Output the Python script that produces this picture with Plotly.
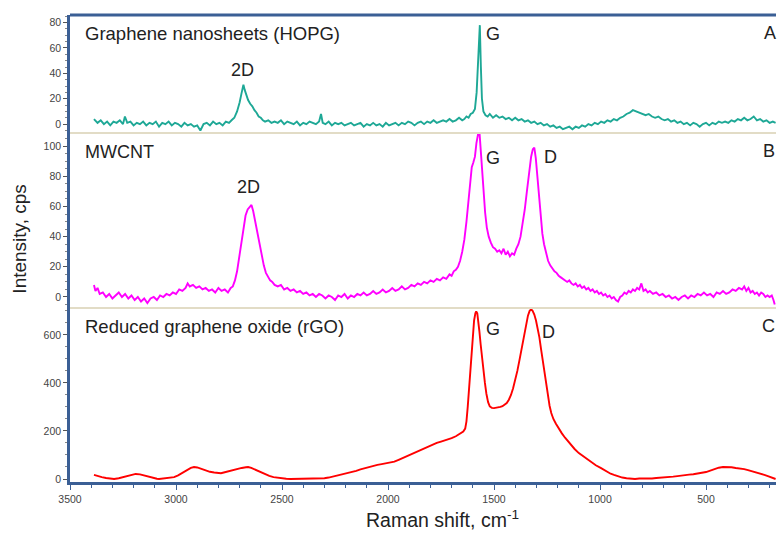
import plotly.graph_objects as go
from plotly.subplots import make_subplots

# ---------------- data ----------------
hopg_shift = [3387, 3370, 3355, 3340, 3325, 3310, 3295, 3280, 3265, 3250, 3241, 3230, 3215, 3200, 3185, 3170,
              3155, 3140, 3125, 3110, 3095, 3080, 3065, 3050, 3035, 3020, 3005, 2990, 2975, 2960, 2945, 2930,
              2915, 2900, 2885, 2870, 2855, 2840, 2825, 2810, 2795, 2780, 2765, 2750, 2738, 2725, 2712, 2700,
              2690, 2682, 2676, 2668, 2660, 2650, 2640, 2630, 2620, 2610, 2600, 2590, 2580, 2565, 2550, 2535,
              2520, 2505, 2490, 2475, 2460, 2445, 2430, 2415, 2400, 2385, 2370, 2355, 2340, 2325, 2316, 2308,
              2295, 2280, 2265, 2250, 2235, 2220, 2205, 2190, 2175, 2160, 2145, 2130, 2115, 2100, 2085, 2070,
              2055, 2040, 2025, 2010, 1995, 1980, 1965, 1950, 1935, 1920, 1905, 1890, 1875, 1860, 1845, 1830,
              1815, 1800, 1785, 1770, 1755, 1740, 1725, 1710, 1695, 1680, 1665, 1650, 1640, 1630, 1620, 1610,
              1600, 1590, 1582, 1577, 1572, 1567, 1562, 1557, 1550, 1540, 1530, 1520, 1505, 1490, 1475, 1460,
              1445, 1430, 1415, 1400, 1385, 1370, 1355, 1340, 1325, 1310, 1295, 1280, 1265, 1250, 1235, 1220,
              1205, 1190, 1175, 1160, 1145, 1130, 1115, 1100, 1085, 1070, 1055, 1040, 1025, 1010, 995, 980,
              965, 950, 935, 920, 905, 890, 875, 860, 845, 830, 815, 800, 785, 770, 755, 740,
              725, 710, 695, 680, 665, 650, 635, 620, 605, 590, 575, 560, 545, 530, 515, 500,
              485, 470, 455, 440, 425, 410, 395, 380, 365, 350, 335, 320, 305, 290, 275, 260,
              245, 230, 215, 200, 185, 172]
hopg_int = [4, 1, 3, 0, 2, -1, 2, 1, 3, 0, 6, 1, 2, -1, 1, 0,
            2, -1, 1, 0, 2, -2, 1, 0, 2, -1, 1, 0, -2, 1, -1, 0,
            -2, -1, -5, 0, 1, -1, 2, 0, 1, -1, 2, 1, 3, 5, 10, 17,
            25, 31, 27, 22, 19, 16, 14, 11, 9, 6, 5, 3, 2, 3, 1, 2,
            1, 3, 0, 2, 1, 0, 2, -1, 1, 0, 2, 1, 0, 2, 8, 1,
            0, 2, -1, 1, 0, 1, -1, 0, 1, -1, 0, 1, -2, 0, -1, 1,
            -1, 0, -2, 1, -1, 0, 1, -1, 1, 0, 2, 1, -1, 1, 2, 0,
            2, 1, 3, 1, 2, 3, 2, 4, 2, 3, 5, 3, 4, 6, 5, 8,
            9, 12, 25, 45, 70, 78, 45, 20, 10, 7, 6, 8, 5, 7, 5, 6,
            4, 5, 3, 5, 3, 4, 2, 3, 1, 2, 0, 1, -1, 0, -2, -1,
            -3, -2, -4, -3, -2, -4, -2, -3, -1, -2, 0, -1, 1, 0, 2, 1,
            3, 2, 4, 3, 5, 6, 8, 9, 11, 10, 9, 8, 7, 8, 6, 5,
            6, 4, 3, 4, 2, 3, 1, 2, 0, 1, -1, 1, 0, -2, 0, 1,
            -1, 1, 0, 2, 1, 2, 1, 3, 2, 4, 3, 5, 3, 4, 6, 3,
            4, 2, 3, 1, 2, 1]

mwcnt_shift = [3387, 3380, 3370, 3360, 3345, 3330, 3315, 3300, 3285, 3270, 3255, 3240, 3225, 3210, 3195, 3180,
               3165, 3150, 3135, 3120, 3105, 3090, 3075, 3060, 3045, 3030, 3015, 3000, 2985, 2970, 2955, 2945,
               2935, 2920, 2905, 2890, 2875, 2860, 2845, 2830, 2815, 2800, 2785, 2770, 2755, 2742, 2732, 2722,
               2712, 2702, 2692, 2682, 2672, 2662, 2652, 2644, 2636, 2626, 2616, 2606, 2596, 2586, 2576, 2566,
               2556, 2546, 2535, 2520, 2505, 2490, 2475, 2460, 2445, 2430, 2415, 2400, 2385, 2370, 2355, 2340,
               2325, 2310, 2295, 2280, 2265, 2250, 2235, 2220, 2205, 2190, 2175, 2160, 2145, 2130, 2115, 2100,
               2085, 2070, 2055, 2040, 2025, 2010, 1995, 1980, 1965, 1950, 1935, 1920, 1905, 1890, 1875, 1860,
               1845, 1830, 1815, 1800, 1785, 1770, 1755, 1740, 1725, 1710, 1700, 1690, 1680, 1670, 1660, 1650,
               1640, 1630, 1620, 1612, 1605, 1598, 1590, 1583, 1576, 1570, 1564, 1558, 1550, 1542, 1534, 1525,
               1515, 1505, 1495, 1485, 1475, 1465, 1455, 1445, 1435, 1425, 1415, 1405, 1395, 1385, 1375, 1365,
               1355, 1345, 1335, 1325, 1317, 1310, 1303, 1296, 1288, 1280, 1272, 1264, 1255, 1245, 1235, 1225,
               1215, 1205, 1195, 1185, 1175, 1165, 1155, 1145, 1135, 1125, 1115, 1105, 1095, 1085, 1075, 1065,
               1055, 1045, 1035, 1025, 1015, 1005, 995, 985, 975, 965, 955, 945, 935, 925, 915, 905,
               895, 885, 875, 865, 855, 845, 835, 825, 815, 805, 795, 785, 775, 765, 750, 735,
               720, 705, 690, 675, 660, 645, 630, 615, 600, 585, 570, 555, 540, 525, 510, 495,
               480, 465, 450, 435, 420, 405, 390, 375, 360, 345, 330, 320, 310, 300, 290, 280,
               270, 260, 250, 240, 230, 220, 210, 200, 190, 182, 176]
mwcnt_int = [8, 4, 6, 2, 3, 0, 2, -1, 1, 3, 0, 2, -1, 1, -2, 0,
             -3, -1, -4, -1, 0, -2, 1, 0, 2, 1, 3, 2, 5, 4, 6, 9,
             7, 8, 6, 7, 5, 6, 4, 5, 3, 6, 4, 5, 3, 6, 7, 11,
             17, 26, 37, 47, 54, 58, 60, 61, 57, 50, 42, 34, 27, 21, 16, 13,
             11, 10, 8, 7, 8, 5, 6, 4, 5, 3, 4, 2, 3, 1, 2, 0,
             2, 1, -1, 1, 0, -2, 1, 0, 2, -1, 1, 0, 2, 1, 3, 1,
             2, 4, 2, 3, 5, 3, 4, 6, 4, 5, 7, 5, 6, 8, 7, 9,
             8, 10, 9, 11, 10, 12, 11, 13, 12, 15, 14, 17, 18, 20, 24, 30,
             38, 50, 66, 80, 86, 89, 93, 102, 110, 112, 100, 86, 70, 56, 46, 40,
             36, 33, 32, 30, 31, 29, 32, 28, 30, 27, 29, 28, 32, 35, 40, 48,
             58, 70, 82, 93, 98, 99, 92, 80, 65, 52, 42, 35, 29, 24, 21, 19,
             17, 16, 14, 13, 12, 11, 10, 11, 9, 8, 9, 7, 8, 6, 7, 5,
             6, 4, 5, 3, 4, 2, 3, 1, 2, 0, 1, -1, 0, -2, -3, 0,
             1, 3, 2, 4, 3, 5, 4, 6, 5, 9, 4, 5, 3, 4, 2, 3,
             1, 2, 0, 1, -1, 0, -2, 0, 1, -1, 1, 0, 2, 1, 3, 1,
             2, 0, 3, 2, 4, 2, 3, 5, 4, 6, 5, 7, 4, 6, 3, 4,
             2, 3, 1, 3, 2, 0, 1, 0, 1, -2, -5]

rgo_shift = [3387, 3370, 3350, 3330, 3310, 3292, 3270, 3250, 3230, 3210, 3190, 3170, 3150, 3130, 3110, 3090,
             3080, 3060, 3040, 3020, 3009, 2990, 2970, 2950, 2930, 2915, 2900, 2880, 2860, 2840, 2820, 2800,
             2788, 2770, 2750, 2730, 2710, 2690, 2670, 2660, 2645, 2630, 2615, 2600, 2580, 2560, 2540, 2520,
             2500, 2480, 2460, 2443, 2420, 2400, 2380, 2360, 2340, 2316, 2300, 2280, 2260, 2240, 2220, 2200,
             2189, 2170, 2150, 2130, 2110, 2090, 2070, 2050, 2030, 2010, 1986, 1970, 1950, 1930, 1910, 1890,
             1870, 1850, 1830, 1810, 1790, 1770, 1750, 1730, 1717, 1700, 1680, 1660, 1645, 1636, 1630, 1624,
             1618, 1612, 1606, 1600, 1594, 1588, 1584, 1579, 1574, 1569, 1563, 1557, 1550, 1543, 1536, 1528,
             1520, 1510, 1500, 1490, 1480, 1470, 1460, 1450, 1440, 1430, 1420, 1410, 1400, 1390, 1380, 1370,
             1360, 1350, 1340, 1332, 1325, 1318, 1310, 1302, 1294, 1286, 1278, 1270, 1262, 1254, 1246, 1238,
             1230, 1220, 1208, 1195, 1180, 1165, 1150, 1137, 1120, 1100, 1080, 1057, 1040, 1020, 995, 970,
             950, 934, 915, 895, 875, 854, 835, 815, 795, 775, 755, 735, 715, 695, 675, 655,
             635, 618, 600, 580, 560, 540, 520, 500, 480, 460, 440, 420, 400, 380, 360, 340,
             320, 302, 285, 265, 245, 225, 205, 193, 180, 172]
rgo_int = [17, 12, 8, 4, 1, 0, 3, 8, 14, 19, 21, 19, 14, 8, 3, 1,
           0, 2, 5, 7, 8, 15, 25, 37, 46, 50, 48, 42, 35, 30, 27, 25,
           24, 28, 33, 38, 43, 46, 49, 50, 46, 40, 32, 26, 19, 13, 8, 5,
           3, 1, 0, 0, 1, 0, 2, 1, 0, 1, 3, 6, 10, 14, 18, 22,
           25, 29, 34, 40, 45, 51, 55, 59, 62, 65, 67, 72, 80, 88, 96, 104,
           112, 120, 128, 136, 143, 150, 156, 161, 163, 170, 178, 188, 198, 210, 240, 300,
           380, 460, 540, 610, 660, 690, 698, 690, 660, 615, 560, 505, 450, 400, 355, 320,
           302, 296, 295, 296, 298, 300, 303, 308, 316, 330, 350, 378, 410, 450, 495, 540,
           590, 640, 680, 700, 706, 700, 685, 660, 630, 590, 540, 490, 440, 390, 345, 305,
           275, 250, 230, 210, 190, 172, 155, 142, 125, 108, 95, 82, 70, 57, 45, 32,
           22, 17, 11, 6, 3, 1, 0, 2, 1, 3, 2, 4, 5, 7, 6, 10,
           12, 13, 16, 18, 20, 22, 25, 29, 35, 42, 47, 50, 51, 49, 46, 44,
           41, 37, 33, 28, 22, 17, 11, 6, 2, 0]

x_tick_vals = [3500, 3000, 2500, 2000, 1500, 1000, 500]

# ---------------- styling ----------------
BLUE = "#3b5f95"
BEIGE = "#e2dcc6"
TICKFONT = dict(family="Liberation Sans, Arial, sans-serif", size=10.5, color="#444444")
TXT = dict(family="Liberation Sans, Arial, sans-serif", size=18, color="#222222")

fig = make_subplots(rows=3, cols=1, shared_xaxes=True, vertical_spacing=0,
                    row_heights=[118 / 467, 175 / 467, 174 / 467])

fig.add_trace(go.Scatter(x=hopg_shift, y=hopg_int, mode="lines",
                         line=dict(color="#1ea896", width=1.9), showlegend=False), row=1, col=1)
fig.add_trace(go.Scatter(x=mwcnt_shift, y=mwcnt_int, mode="lines",
                         line=dict(color="#ff00ff", width=1.9), showlegend=False), row=2, col=1)
fig.add_trace(go.Scatter(x=rgo_shift, y=rgo_int, mode="lines",
                         line=dict(color="#ff0000", width=1.9), showlegend=False), row=3, col=1)

for r in (1, 2, 3):
    fig.update_xaxes(range=[3500, 170], showgrid=False, zeroline=False, row=r, col=1)
fig.update_xaxes(showticklabels=False, ticks="", showline=False, row=1, col=1)
fig.update_xaxes(showticklabels=False, ticks="", showline=False, row=2, col=1)
fig.update_xaxes(tickvals=x_tick_vals, ticks="outside", ticklen=5, tickwidth=1, tickcolor=BLUE,
                 showline=True, linecolor=BLUE, linewidth=3, tickfont=TICKFONT,
                 minor=dict(dtick=100, tick0=0, ticks="outside", ticklen=3, tickcolor=BLUE),
                 row=3, col=1)

yranges = [[-7, 86], [-7.3, 108.7], [-12.5, 712]]
ydticks = [20, 20, 200]
yminor = [5, 5, 50]
for r in (1, 2, 3):
    fig.update_yaxes(range=yranges[r - 1], dtick=ydticks[r - 1], tick0=0, showgrid=False, zeroline=False,
                     showline=True, linecolor=BLUE, linewidth=2.5, ticks="outside", ticklen=4,
                     tickcolor="#555555", tickfont=TICKFONT,
                     minor=dict(dtick=yminor[r - 1], ticks="outside", ticklen=2, tickcolor="#888888"),
                     row=r, col=1)

yb = 174 / 467
ya = (174 + 175) / 467
shapes = [
    dict(type="line", xref="paper", yref="paper", x0=0, x1=1, y0=1, y1=1, line=dict(color=BLUE, width=3)),
    dict(type="line", xref="paper", yref="paper", x0=0, x1=1, y0=ya, y1=ya, line=dict(color=BEIGE, width=2)),
    dict(type="line", xref="paper", yref="paper", x0=0, x1=1, y0=yb, y1=yb, line=dict(color=BEIGE, width=2)),
]

def lab(text, x, y, xanchor="center", size=18):
    return dict(text=text, x=x, y=y, xref="paper", yref="paper", xanchor=xanchor, yanchor="middle",
                showarrow=False, font=dict(TXT, size=size))

annotations = [
    lab("Graphene nanosheets (HOPG)", 0.018, 0.961, "left", 18.5),
    lab("2D", 0.245, 0.882),
    lab("G", 0.599, 0.959),
    lab("A", 0.991, 0.961),
    lab("MWCNT", 0.018, 0.7066, "left"),
    lab("2D", 0.2535, 0.6317),
    lab("G", 0.599, 0.6938),
    lab("D", 0.681, 0.696),
    lab("B", 0.990, 0.7088),
    lab("Reduced graphene oxide (rGO)", 0.018, 0.334, "left", 18.5),
    lab("G", 0.599, 0.3276),
    lab("D", 0.678, 0.321),
    lab("C", 0.9887, 0.334),
    dict(text="Intensity, cps", x=-0.0708, y=0.519, xref="paper", yref="paper", textangle=-90,
         showarrow=False, xanchor="center", yanchor="middle", font=dict(TXT, size=19)),
    dict(text="Raman shift, cm<sup>-1</sup>", x=0.527, y=-0.079, xref="paper", yref="paper",
         showarrow=False, xanchor="center", yanchor="middle", font=dict(TXT, size=19.5)),
]

fig.update_layout(width=778, height=537, margin=dict(l=70, r=2, t=15, b=55),
                  paper_bgcolor="white", plot_bgcolor="white",
                  shapes=shapes, annotations=annotations)

fig.write_html("out.html")
